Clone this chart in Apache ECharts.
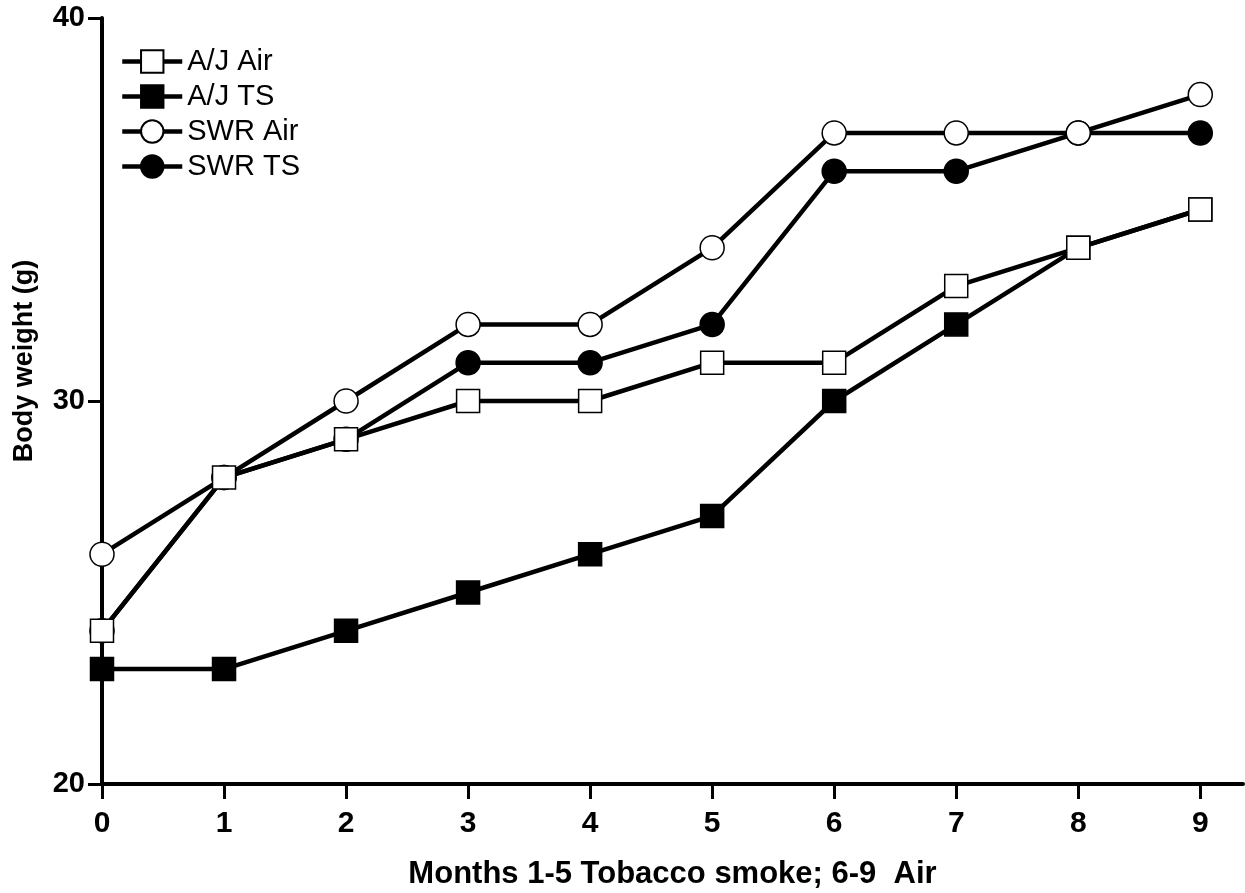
<!DOCTYPE html>
<html>
<head>
<meta charset="utf-8">
<script src="https://cdn.jsdelivr.net/npm/echarts@6/dist/echarts.min.js"></script>
<style>
  html, body { margin: 0; padding: 0; background: #fff; }
  #chart { width: 1245px; height: 893px; }
</style>
</head>
<body>
<div id="chart"></div>
<script>
  // months
  var months = [0, 1, 2, 3, 4, 5, 6, 7, 8, 9]
  var ajAir = [24, 28, 29, 30, 30, 31, 31, 33, 34, 35]
  var ajTS = [23, 23, 24, 25, 26, 27, 30, 32, 34, 35]
  var swrAir = [26, 28, 30, 32, 32, 34, 37, 37, 37, 38]
  var swrTS = [24, 28, 29, 31, 31, 32, 36, 36, 37, 37]
  var legendNames = ['A/J Air', 'A/J TS', 'SWR Air', 'SWR TS']

  var FONT = 'Liberation Sans, Arial, sans-serif'

  function pairs(vals) {
    return months.map(function (m, i) { return [m, vals[i]] })
  }

  function makeSeries(name, vals, symbol, filled) {
    return {
      name: name,
      type: 'line',
      data: pairs(vals),
      symbol: symbol,
      symbolSize: symbol === 'rect' ? 23 : 24,
      showAllSymbol: true,
      lineStyle: { color: '#000', width: 4.5 },
      itemStyle: {
        color: filled ? '#000' : '#fff',
        borderColor: '#000',
        borderWidth: 1.5
      },
      animation: false
    }
  }

  var chart = echarts.init(document.getElementById('chart'))
  chart.setOption({
    backgroundColor: '#fff',
    textStyle: { fontFamily: FONT },
    grid: { left: 102, right: 2, top: 18, bottom: 109, containLabel: false, outerBoundsMode: 'none' },
    legend: {
      data: legendNames.map(function (n) { return { name: n } }),
      orient: 'vertical',
      left: 115,
      top: 42,
      itemWidth: 60,
      itemHeight: 28,
      itemGap: 6,
      lineStyle: { width: 4.5 },
      textStyle: { fontSize: 29, color: '#000', fontFamily: FONT }
    },
    xAxis: {
      type: 'value',
      min: 0,
      max: 9.35,
      interval: 1,
      splitLine: { show: false },
      axisLine: { lineStyle: { color: '#000', width: 4 } },
      axisTick: { length: 15, lineStyle: { color: '#000', width: 3 }, customValues: months },
      axisLabel: {
        customValues: months,
        margin: 25,
        fontSize: 30,
        fontWeight: 'bold',
        color: '#000'
      },
      name: 'Months 1-5 Tobacco smoke; 6-9  Air',
      nameLocation: 'middle',
      nameGap: 75,
      nameMoveOverlap: false,
      nameTextStyle: { fontSize: 31, fontWeight: 'bold', color: '#000' }
    },
    yAxis: {
      type: 'value',
      min: 20,
      max: 40,
      interval: 10,
      splitLine: { show: false },
      axisLine: { show: true, lineStyle: { color: '#000', width: 4 } },
      axisTick: { show: true, length: 14, lineStyle: { color: '#000', width: 3 } },
      axisLabel: { margin: 17, fontSize: 29, fontWeight: 'bold', color: '#000' },
      name: 'Body weight (g)',
      nameLocation: 'middle',
      nameGap: 64,
      nameMoveOverlap: false,
      nameTextStyle: { fontSize: 27, fontWeight: 'bold', color: '#000', padding: [0, 0, 0, 80] }
    },
    series: [
      makeSeries('SWR TS', swrTS, 'circle', true),
      makeSeries('A/J TS', ajTS, 'rect', true),
      makeSeries('SWR Air', swrAir, 'circle', false),
      makeSeries('A/J Air', ajAir, 'rect', false)
    ]
  })
</script>
</body>
</html>
